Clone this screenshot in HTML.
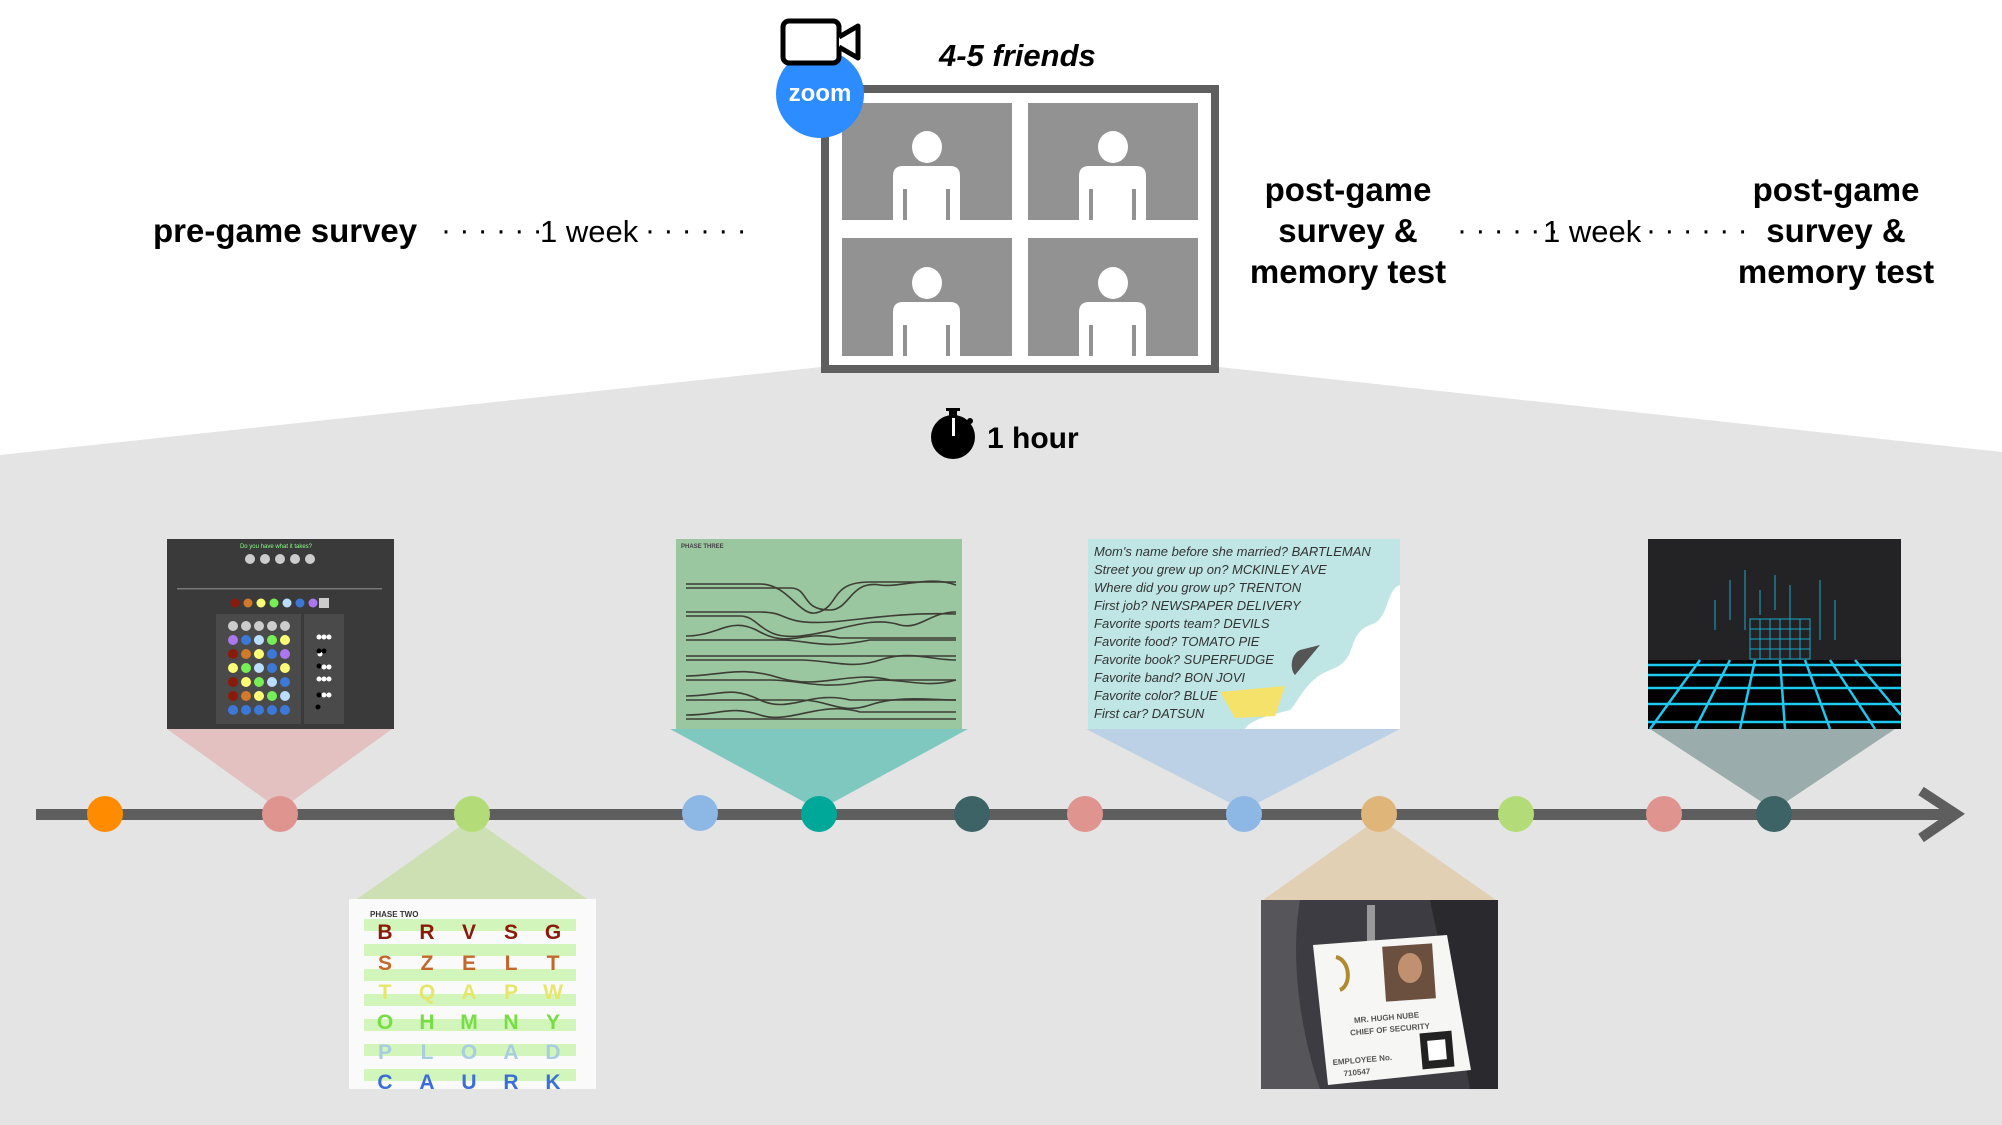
<!DOCTYPE html>
<html><head><meta charset="utf-8"><style>
html,body{margin:0;padding:0;background:#fff;}
svg{display:block;}
text{font-family:"Liberation Sans",sans-serif;}
</style></head><body>
<svg width="2002" height="1125" viewBox="0 0 2002 1125" xmlns="http://www.w3.org/2000/svg">
<polygon points="0,455 821,367 1219,367 2002,452 2002,1125 0,1125" fill="#e4e4e4"/>

<text x="153" y="242" font-size="33" font-weight="bold" fill="#000">pre-game survey</text>
<text x="441" y="240" font-size="30" fill="#000">· · · · · ·</text>
<text x="540" y="242" font-size="31" fill="#000">1 week</text>
<text x="645" y="240" font-size="30" fill="#000">· · · · · ·</text>

<g font-size="33" font-weight="bold" fill="#000" text-anchor="middle">
<text x="1348" y="201">post-game</text>
<text x="1348" y="242">survey &amp;</text>
<text x="1348" y="283">memory test</text>
<text x="1836" y="201">post-game</text>
<text x="1836" y="242">survey &amp;</text>
<text x="1836" y="283">memory test</text>
</g>
<text x="1457" y="240" font-size="30" fill="#000">· · · · · ·</text>
<text x="1543" y="242" font-size="31" fill="#000">1 week</text>
<text x="1646" y="240" font-size="30" fill="#000">· · · · · ·</text>

<text x="939" y="66" font-size="31" font-weight="bold" font-style="italic" fill="#000">4-5 friends</text>

<rect x="825" y="89" width="390" height="280" fill="#fff" stroke="#5f5f5f" stroke-width="8"/>
<rect x="842" y="103" width="170" height="117" fill="#929292"/>
<rect x="1028" y="103" width="170" height="117" fill="#929292"/>
<rect x="842" y="238" width="170" height="118" fill="#929292"/>
<rect x="1028" y="238" width="170" height="118" fill="#929292"/>
<g fill="#fff">
<ellipse cx="927" cy="147" rx="15" ry="16"/>
<path d="M893,220 V176 Q893,166 903,166 H950 Q960,166 960,176 V220 Z"/>
<ellipse cx="1113" cy="147" rx="15" ry="16"/>
<path d="M1079,220 V176 Q1079,166 1089,166 H1136 Q1146,166 1146,176 V220 Z"/>
<ellipse cx="927" cy="283" rx="15" ry="16"/>
<path d="M893,356 V312 Q893,302 903,302 H950 Q960,302 960,312 V356 Z"/>
<ellipse cx="1113" cy="283" rx="15" ry="16"/>
<path d="M1079,356 V312 Q1079,302 1089,302 H1136 Q1146,302 1146,312 V356 Z"/>
</g>
<g stroke="#929292" stroke-width="4">
<line x1="905" y1="189" x2="905" y2="220"/><line x1="948" y1="189" x2="948" y2="220"/>
<line x1="1091" y1="189" x2="1091" y2="220"/><line x1="1134" y1="189" x2="1134" y2="220"/>
<line x1="905" y1="325" x2="905" y2="356"/><line x1="948" y1="325" x2="948" y2="356"/>
<line x1="1091" y1="325" x2="1091" y2="356"/><line x1="1134" y1="325" x2="1134" y2="356"/>
</g>

<circle cx="820" cy="94" r="44" fill="#2d8cff"/>
<text x="820" y="101" font-size="24" font-weight="bold" fill="#fff" text-anchor="middle">zoom</text>
<rect x="783" y="21" width="56" height="42" rx="6" fill="#fff" stroke="#000" stroke-width="5"/>
<path d="M839,37 L858,26 V58 L839,47" fill="#fff" stroke="#000" stroke-width="5" stroke-linejoin="round"/>

<circle cx="953" cy="437" r="22" fill="#000"/>
<rect x="949" y="410" width="8" height="6" fill="#000"/>
<rect x="946" y="408" width="14" height="3" fill="#000"/>
<circle cx="970" cy="421" r="3" fill="#000"/>
<rect x="952" y="418" width="3" height="18" fill="#fff"/>
<text x="987" y="448" font-size="30" font-weight="bold" fill="#000">1 hour</text>

<polygon points="167,729 392,729 280,810" fill="#e2c1c0"/>
<polygon points="670,729 968,729 819,810" fill="#7ec8c0"/>
<polygon points="472,818 357,899 587,899" fill="#cde0b3"/>
<polygon points="1086,729 1400,729 1244,810" fill="#bcd1e6"/>
<polygon points="1650,729 1895,729 1774,810" fill="#9aacac"/>
<polygon points="1379,818 1263,900 1496,900" fill="#e2d0b4"/>

<rect x="36" y="809" width="1916" height="11" fill="#5e5e5e"/>
<polyline points="1921,791 1956,814 1921,838" fill="none" stroke="#5e5e5e" stroke-width="10"/>
<circle cx="105" cy="814" r="18" fill="#ff8c00"/>
<circle cx="280" cy="814" r="18" fill="#e09490"/>
<circle cx="472" cy="814" r="18" fill="#b3dc78"/>
<circle cx="700" cy="813" r="18" fill="#8db8e6"/>
<circle cx="819" cy="814" r="18" fill="#00a89a"/>
<circle cx="972" cy="814" r="18" fill="#3d6367"/>
<circle cx="1085" cy="814" r="18" fill="#e09490"/>
<circle cx="1244" cy="814" r="18" fill="#8db8e6"/>
<circle cx="1379" cy="814" r="18" fill="#e0b57a"/>
<circle cx="1516" cy="814" r="18" fill="#b3dc78"/>
<circle cx="1664" cy="814" r="18" fill="#e09490"/>
<circle cx="1774" cy="814" r="18" fill="#3d6367"/>

<rect x="167" y="539" width="227" height="190" fill="#3a3a3a"/>
<text x="276" y="548" font-size="6" fill="#8f8" text-anchor="middle" font-family="Liberation Mono">Do you have what it takes?</text>
<g fill="#ccc"><circle cx="250" cy="559" r="5"/><circle cx="265" cy="559" r="5"/><circle cx="280" cy="559" r="5"/><circle cx="295" cy="559" r="5"/><circle cx="310" cy="559" r="5"/></g>
<rect x="177" y="588" width="205" height="1.5" fill="#777"/>
<circle cx="235" cy="603" r="4.5" fill="#8b1a0a"/><circle cx="248" cy="603" r="4.5" fill="#d27a2a"/><circle cx="261" cy="603" r="4.5" fill="#ffff77"/><circle cx="274" cy="603" r="4.5" fill="#77ee55"/><circle cx="287" cy="603" r="4.5" fill="#bbddff"/><circle cx="300" cy="603" r="4.5" fill="#3c78d8"/><circle cx="313" cy="603" r="4.5" fill="#aa77ee"/><rect x="319" y="598" width="10" height="10" fill="#ccc"/>
<rect x="216" y="614" width="85" height="110" fill="#4a4a4a"/>
<rect x="304" y="614" width="40" height="110" fill="#4a4a4a"/>
<g fill="#ccc"><circle cx="233" cy="626" r="5"/><circle cx="246" cy="626" r="5"/><circle cx="259" cy="626" r="5"/><circle cx="272" cy="626" r="5"/><circle cx="285" cy="626" r="5"/></g>
<circle cx="233" cy="640" r="5" fill="#aa77ee"/><circle cx="246" cy="640" r="5" fill="#3c78d8"/><circle cx="259" cy="640" r="5" fill="#bbddff"/><circle cx="272" cy="640" r="5" fill="#77ee55"/><circle cx="285" cy="640" r="5" fill="#ffff77"/>
<circle cx="233" cy="654" r="5" fill="#8b1a0a"/><circle cx="246" cy="654" r="5" fill="#d27a2a"/><circle cx="259" cy="654" r="5" fill="#ffff77"/><circle cx="272" cy="654" r="5" fill="#3c78d8"/><circle cx="285" cy="654" r="5" fill="#aa77ee"/>
<circle cx="233" cy="668" r="5" fill="#ffff77"/><circle cx="246" cy="668" r="5" fill="#77ee55"/><circle cx="259" cy="668" r="5" fill="#bbddff"/><circle cx="272" cy="668" r="5" fill="#3c78d8"/><circle cx="285" cy="668" r="5" fill="#ffff77"/>
<circle cx="233" cy="682" r="5" fill="#8b1a0a"/><circle cx="246" cy="682" r="5" fill="#ffff77"/><circle cx="259" cy="682" r="5" fill="#77ee55"/><circle cx="272" cy="682" r="5" fill="#bbddff"/><circle cx="285" cy="682" r="5" fill="#3c78d8"/>
<circle cx="233" cy="696" r="5" fill="#8b1a0a"/><circle cx="246" cy="696" r="5" fill="#d27a2a"/><circle cx="259" cy="696" r="5" fill="#ffff77"/><circle cx="272" cy="696" r="5" fill="#77ee55"/><circle cx="285" cy="696" r="5" fill="#bbddff"/>
<g fill="#3c78d8"><circle cx="233" cy="710" r="5"/><circle cx="246" cy="710" r="5"/><circle cx="259" cy="710" r="5"/><circle cx="272" cy="710" r="5"/><circle cx="285" cy="710" r="5"/></g>
<g fill="#fff"><circle cx="319" cy="637" r="2.5"/><circle cx="324" cy="637" r="2.5"/><circle cx="329" cy="637" r="2.5"/><circle cx="320" cy="654" r="2.5"/><circle cx="324" cy="667" r="2.5"/><circle cx="329" cy="667" r="2.5"/><circle cx="319" cy="679" r="2.5"/><circle cx="324" cy="679" r="2.5"/><circle cx="329" cy="679" r="2.5"/><circle cx="324" cy="695" r="2.5"/><circle cx="329" cy="695" r="2.5"/></g>
<g fill="#000"><circle cx="319" cy="651" r="2.5"/><circle cx="324" cy="651" r="2.5"/><circle cx="319" cy="666" r="2.5"/><circle cx="319" cy="695" r="2.5"/><circle cx="318" cy="707" r="2.5"/></g>

<rect x="676" y="539" width="286" height="190" fill="#9ac6a0"/>
<text x="681" y="548" font-size="6" fill="#444" font-family="Liberation Mono" font-weight="bold">PHASE THREE</text>
<g fill="none" stroke="#3d3d35" stroke-width="1.6">
<path d="M686,588 H790 C810,588 800,610 830,610 C850,610 850,580 880,585 C900,588 930,575 956,585"/>
<path d="M686,584 H760 C790,584 800,620 819,612 C840,605 830,582 870,582 H956"/>
<path d="M686,612 H760 C790,612 780,625 830,622 C860,620 900,612 956,614"/>
<path d="M686,616 H740 C760,616 760,640 800,636 C840,632 870,615 900,625 C920,630 930,612 956,612"/>
<path d="M686,636 C720,636 730,615 760,632 C790,648 800,630 840,638 H956"/>
<path d="M686,640 H780 C810,640 820,650 870,640 H956"/>
<path d="M686,656 H956"/><path d="M686,660 H800 C830,660 850,670 880,660 C910,650 930,660 956,660"/>
<path d="M686,676 C720,676 740,665 780,678 C820,690 850,670 890,680 H956"/>
<path d="M686,680 H770 C800,680 820,690 860,682 C900,675 920,690 956,680"/>
<path d="M686,696 C720,696 730,685 760,700 C790,714 810,690 850,700 H956"/>
<path d="M686,700 H800 C830,700 840,715 870,705 C900,695 930,700 956,700"/>
<path d="M686,715 C720,715 730,705 760,715 C790,725 820,700 860,712 H956"/>
<path d="M686,719 H956"/>
</g>

<rect x="349" y="899" width="247" height="190" fill="#fafafa"/>
<g fill="#d2f5bc">
<rect x="364" y="919" width="212" height="12"/><rect x="364" y="944" width="212" height="12"/>
<rect x="364" y="969" width="212" height="12"/><rect x="364" y="994" width="212" height="12"/>
<rect x="364" y="1019" width="212" height="12"/><rect x="364" y="1044" width="212" height="12"/>
<rect x="364" y="1069" width="212" height="12"/>
</g>
<text x="370" y="917" font-size="8" font-weight="bold" fill="#333">PHASE TWO</text>
<g font-size="21" font-weight="bold" font-family="Liberation Mono" text-anchor="middle">
<g fill="#8b1a0a"><text x="385" y="939">B</text><text x="427" y="939">R</text><text x="469" y="939">V</text><text x="511" y="939">S</text><text x="553" y="939">G</text></g>
<g fill="#c5662a"><text x="385" y="970">S</text><text x="427" y="970">Z</text><text x="469" y="970">E</text><text x="511" y="970">L</text><text x="553" y="970">T</text></g>
<g fill="#e6e66a"><text x="385" y="999">T</text><text x="427" y="999">Q</text><text x="469" y="999">A</text><text x="511" y="999">P</text><text x="553" y="999">W</text></g>
<g fill="#77dd44"><text x="385" y="1029">O</text><text x="427" y="1029">H</text><text x="469" y="1029">M</text><text x="511" y="1029">N</text><text x="553" y="1029">Y</text></g>
<g fill="#a8cce0"><text x="385" y="1059">P</text><text x="427" y="1059">L</text><text x="469" y="1059">O</text><text x="511" y="1059">A</text><text x="553" y="1059">D</text></g>
<g fill="#3c6ed8"><text x="385" y="1089">C</text><text x="427" y="1089">A</text><text x="469" y="1089">U</text><text x="511" y="1089">R</text><text x="553" y="1089">K</text></g>
</g>

<rect x="1088" y="539" width="312" height="190" fill="#bfe6e4"/>
<path d="M1400,585 C1385,590 1390,620 1370,625 C1345,635 1360,660 1330,670 C1305,680 1300,700 1290,710 C1270,715 1250,720 1245,729 H1400 Z" fill="#fff"/>
<path d="M1300,650 C1290,655 1290,670 1295,675 L1320,645 Z" fill="#555"/>
<polygon points="1220,692 1285,686 1275,716 1235,718" fill="#f4e26a"/>
<g font-size="13" fill="#333" font-style="italic">
<text x="1094" y="556">Mom's name before she married? BARTLEMAN</text>
<text x="1094" y="574">Street you grew up on? MCKINLEY AVE</text>
<text x="1094" y="592">Where did you grow up? TRENTON</text>
<text x="1094" y="610">First job? NEWSPAPER DELIVERY</text>
<text x="1094" y="628">Favorite sports team? DEVILS</text>
<text x="1094" y="646">Favorite food? TOMATO PIE</text>
<text x="1094" y="664">Favorite book? SUPERFUDGE</text>
<text x="1094" y="682">Favorite band? BON JOVI</text>
<text x="1094" y="700">Favorite color? BLUE</text>
<text x="1094" y="718">First car? DATSUN</text>
</g>

<rect x="1648" y="539" width="253" height="190" fill="#232326"/>
<rect x="1750" y="619" width="60" height="40" fill="none" stroke="#1aa8c8" stroke-width="1"/>
<g stroke="#1aa8c8" stroke-width="1">
<line x1="1760" y1="619" x2="1760" y2="659"/><line x1="1770" y1="619" x2="1770" y2="659"/><line x1="1780" y1="619" x2="1780" y2="659"/><line x1="1790" y1="619" x2="1790" y2="659"/><line x1="1800" y1="619" x2="1800" y2="659"/>
<line x1="1750" y1="629" x2="1810" y2="629"/><line x1="1750" y1="639" x2="1810" y2="639"/><line x1="1750" y1="649" x2="1810" y2="649"/>
<line x1="1730" y1="580" x2="1730" y2="620"/><line x1="1745" y1="570" x2="1745" y2="630"/><line x1="1760" y1="590" x2="1760" y2="615"/><line x1="1775" y1="575" x2="1775" y2="610"/><line x1="1790" y1="585" x2="1790" y2="620"/><line x1="1820" y1="580" x2="1820" y2="640"/><line x1="1835" y1="600" x2="1835" y2="640"/><line x1="1715" y1="600" x2="1715" y2="630"/>
</g>
<rect x="1648" y="660" width="253" height="69" fill="#000"/>
<g stroke="#1ec8f0" stroke-width="2.5" fill="none">
<line x1="1648" y1="665" x2="1901" y2="665"/><line x1="1648" y1="675" x2="1901" y2="675"/><line x1="1648" y1="688" x2="1901" y2="688"/><line x1="1648" y1="704" x2="1901" y2="704"/><line x1="1648" y1="722" x2="1901" y2="722"/>
<line x1="1700" y1="660" x2="1650" y2="729"/><line x1="1730" y1="660" x2="1695" y2="729"/><line x1="1755" y1="660" x2="1740" y2="729"/><line x1="1780" y1="660" x2="1785" y2="729"/><line x1="1805" y1="660" x2="1830" y2="729"/><line x1="1830" y1="660" x2="1875" y2="729"/><line x1="1855" y1="660" x2="1901" y2="715"/>
</g>

<rect x="1261" y="900" width="237" height="189" fill="#3c3c42"/>
<path d="M1261,900 H1300 C1290,960 1300,1030 1320,1089 H1261 Z" fill="#55555a"/>
<path d="M1430,900 C1440,950 1460,1030 1470,1089 H1498 V900 Z" fill="#2a2a2e"/>
<rect x="1367" y="905" width="8" height="40" fill="#999"/>
<polygon points="1313,945 1447,935 1471,1070 1328,1085" fill="#f6f6f4"/>
<rect x="1384" y="945" width="50" height="55" fill="#6b5040" transform="rotate(-4 1409 972)"/>
<ellipse cx="1410" cy="968" rx="12" ry="15" fill="#c09070"/>
<path d="M1336,957 C1350,960 1352,985 1340,990" fill="none" stroke="#b08a30" stroke-width="4"/>
<g font-size="8" font-weight="bold" fill="#555" transform="rotate(-5 1390 1030)">
<text x="1355" y="1020">MR. HUGH NUBE</text>
<text x="1350" y="1032">CHIEF OF SECURITY</text>
<text x="1330" y="1060">EMPLOYEE No.</text>
<text x="1340" y="1072">710547</text>
</g>
<rect x="1421" y="1032" width="32" height="36" fill="#222" transform="rotate(-5 1437 1050)"/>
<rect x="1428" y="1040" width="18" height="20" fill="#fff" transform="rotate(-5 1437 1050)"/>
</svg>
</body></html>
